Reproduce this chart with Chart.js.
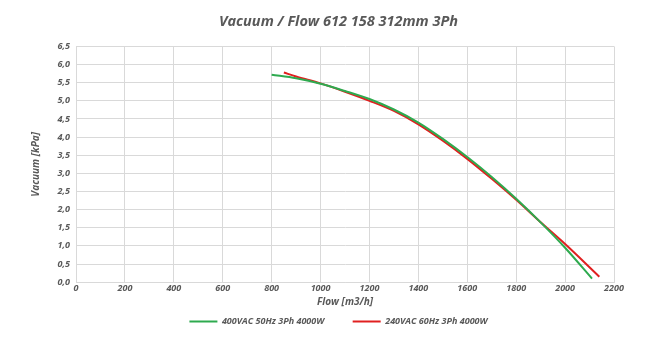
<!DOCTYPE html>
<html>
<head>
<meta charset="utf-8">
<script src="https://cdn.jsdelivr.net/npm/chart.js@4.4.1/dist/chart.umd.min.js"></script>
<style>
    html, body { margin: 0; padding: 0; background: #fff; }
    #wrap { width: 665px; height: 355px; }
</style>
</head>
<body>
<div id="wrap"><canvas id="vacuumChart"></canvas></div>
<script>
// Vacuum / flow curves for the two supply variants
const flow400 = [800, 900, 1000, 1100, 1200, 1300, 1400, 1500, 1600, 1700, 1800, 1900, 2000, 2110];
const vac400  = [5.72, 5.62, 5.47, 5.27, 5.05, 4.76, 4.40, 3.95, 3.45, 2.90, 2.30, 1.65, 0.95, 0.10];

const flow240 = [850, 900, 1000, 1100, 1200, 1300, 1400, 1500, 1600, 1700, 1800, 1900, 2000, 2140];
const vac240  = [5.78, 5.67, 5.48, 5.25, 5.00, 4.72, 4.35, 3.90, 3.40, 2.85, 2.27, 1.65, 1.05, 0.15];

const seriesLabels = ['400VAC 50Hz 3Ph 4000W', '240VAC 60Hz 3Ph 4000W'];
const seriesColors = ['#2eaa4f', '#e02020'];

const textGrey = '#595959';
const gridGrey = '#d9d9d9';
const fontFamily = "'Open Sans', sans-serif";

Chart.defaults.font.family = fontFamily;
Chart.defaults.color = textGrey;

const toPoints = (xs, ys) => xs.map((x, i) => ({ x: x, y: ys[i] }));

const tickFont = { size: 9, style: 'italic', weight: 'bold' };
const axisTitleFont = { size: 10, style: 'italic', weight: 'bold', lineHeight: 1.0 };

function makeSeries(i, xs, ys) {
    return {
        label: seriesLabels[i],
        data: toPoints(xs, ys),
        borderColor: seriesColors[i],
        backgroundColor: seriesColors[i],
        showLine: true,
        borderWidth: 2,
        pointRadius: 0,
        cubicInterpolationMode: 'monotone'
    };
}

new Chart(document.getElementById('vacuumChart'), {
    type: 'scatter',
    data: {
        datasets: [
            makeSeries(0, flow400, vac400),
            makeSeries(1, flow240, vac240)
        ]
    },
    options: {
        responsive: true,
        maintainAspectRatio: false,
        animation: false,
        layout: { padding: { left: 12, right: 0, top: 0, bottom: 19 } },
        plugins: {
            title: {
                display: true,
                text: 'Vacuum / Flow 612 158 312mm 3Ph',
                color: textGrey,
                font: { size: 14.5, weight: 'bold', style: 'italic' },
                padding: { top: 13, bottom: 16 }
            },
            legend: {
                position: 'bottom',
                labels: {
                    boxWidth: 28,
                    boxHeight: 2,
                    padding: 8,
                    color: textGrey,
                    font: { size: 9, style: 'italic', weight: 'bold' },
                    generateLabels: chart => {
                        const items = Chart.defaults.plugins.legend.labels.generateLabels(chart);
                        items.forEach((it, i) => {
                            it.lineWidth = 0;
                            // wider gap after the first entry
                            if (i === 0) it.text += '\u2003\u2003 ';
                        });
                        return items;
                    }
                }
            },
            tooltip: { enabled: false }
        },
        scales: {
            x: {
                type: 'linear',
                min: 0,
                max: 2200,
                ticks: {
                    stepSize: 200,
                    color: textGrey,
                    font: tickFont,
                    padding: 1,
                    callback: v => String(v)
                },
                grid: { color: gridGrey, drawTicks: false },
                border: { color: gridGrey },
                title: {
                    display: true,
                    text: 'Flow [m3/h]',
                    color: textGrey,
                    font: axisTitleFont,
                    padding: { top: 2, bottom: 2 }
                }
            },
            y: {
                min: 0,
                max: 6.5,
                ticks: {
                    stepSize: 0.5,
                    color: textGrey,
                    font: tickFont,
                    padding: 6,
                    callback: v => v.toFixed(1).replace('.', ',')
                },
                grid: { color: gridGrey, drawTicks: false },
                border: { color: gridGrey },
                title: {
                    display: true,
                    text: 'Vacuum [kPa]',
                    color: textGrey,
                    font: axisTitleFont,
                    padding: { top: 19, bottom: 2 }
                },
                afterFit: scale => { scale.width = 64; }
            },
            // empty right-hand scale that only reserves margin
            yRight: {
                position: 'right',
                min: 0,
                max: 6.5,
                ticks: { display: false },
                grid: { display: false, drawTicks: false },
                border: { display: false },
                afterFit: scale => { scale.width = 51; }
            }
        }
    }
});
</script>
</body>
</html>
